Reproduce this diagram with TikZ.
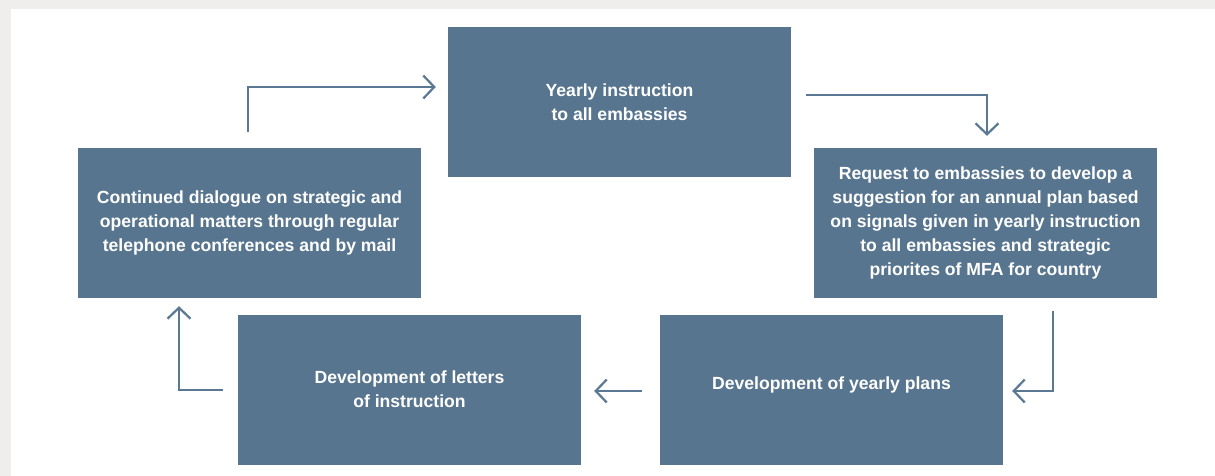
\documentclass[tikz,border=0pt]{standalone}
\usepackage{fontspec}
\setmainfont{Liberation Sans}
\usetikzlibrary{arrows.meta}
\definecolor{boxblue}{HTML}{57758F}
\definecolor{arrowblue}{HTML}{5A7894}
\definecolor{frame}{HTML}{EFEEEC}
\tikzset{
  stagebox/.style={fill=boxblue, draw=none, minimum width=343pt, minimum height=150pt,
    inner sep=0pt, text=white, align=center, font=\bfseries\fontsize{17.6}{24}\selectfont},
  flowarrow/.style={draw=arrowblue, line width=2.2pt, -{Straight Barb[length=11pt,width=23pt,line width=2.2pt]}}
}
\begin{document}
\begin{tikzpicture}[x=1pt,y=-1pt]
\useasboundingbox (0,0) rectangle (1215,476);
\fill[frame] (0,0) rectangle (1215,476);
\fill[white] (11,9) rectangle (1215,476);

\node[stagebox] (top) at (619.5,102) {Yearly instruction\\to all embassies};
\node[stagebox] (left) at (249.5,223) {Continued dialogue on strategic and\\operational matters through regular\\telephone conferences and by mail};
\node[stagebox] (right) at (985.5,223) {Request to embassies to develop a\\suggestion for an annual plan based\\on signals given in yearly instruction\\to all embassies and strategic\\priorites of MFA for country};
\node[stagebox] (botleft) at (409.5,389.5) {Development of letters\\of instruction};
\node[stagebox] (botright) at (831.5,389.5) {\raisebox{5pt}[\height][\depth]{Development of yearly plans}};

\draw[flowarrow] ([xshift=-1.5pt,yshift=16pt]left.north) |- ([xshift=-12pt,yshift=15pt]top.west);
\draw[flowarrow] ([xshift=15pt,yshift=7pt]top.east) -| ([xshift=1.5pt,yshift=12pt]right.north);
\draw[flowarrow] ([xshift=67.5pt,yshift=-13pt]right.south) |- ([xshift=9pt,yshift=-1.5pt]botright.east);
\draw[flowarrow] ([xshift=-18pt,yshift=-1.5pt]botright.west) -- ([xshift=13pt,yshift=-1.5pt]botleft.east);
\draw[flowarrow] ([xshift=-15pt,yshift=-0.5pt]botleft.west) -| ([xshift=-70.5pt,yshift=-8pt]left.south);
\end{tikzpicture}
\end{document}
